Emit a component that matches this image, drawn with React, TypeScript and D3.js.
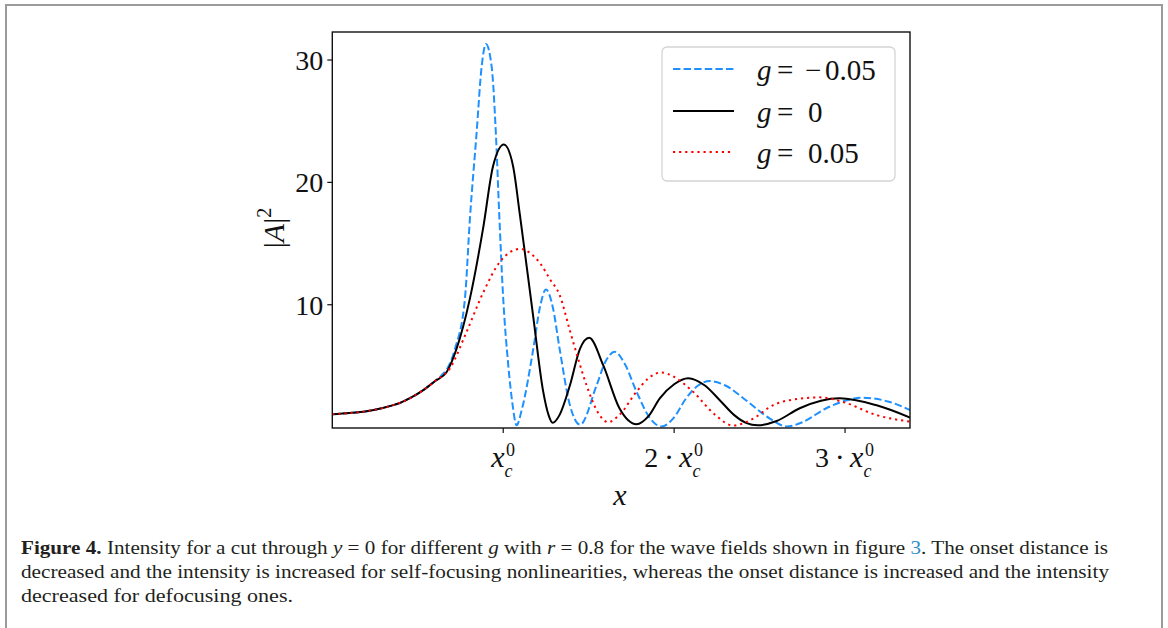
import React, { useEffect } from 'react';
import * as d3 from 'd3';

const W = 1168;
const H = 628;

// shared low-intensity rise (units of x_c^0, |A|^2)
const commonX = [0, 0.1, 0.2, 0.3, 0.4, 0.46, 0.53, 0.6];
const commonY = [1.05, 1.15, 1.3, 1.58, 2.0, 2.4, 3.0, 3.75];

// g = -0.05 (dashed blue)
const blueX = [0.64, 0.669, 0.718, 0.776, 0.805, 0.844, 0.874, 0.899, 0.932, 0.957, 0.977, 1.0, 1.03, 1.055, 1.078, 1.11, 1.176, 1.215, 1.25, 1.29, 1.33, 1.39, 1.45, 1.546, 1.6, 1.653, 1.71, 1.78, 1.86, 1.926, 2.0, 2.07, 2.14, 2.21, 2.3, 2.42, 2.56, 2.66, 2.75, 2.89, 3.0, 3.1, 3.25, 3.38];
const blueY = [4.25, 4.7, 6.4, 10.5, 17.0, 24.0, 29.5, 31.3, 29.5, 24.0, 17.3, 10.5, 5.0, 1.8, 0.15, 1.5, 6.4, 9.8, 11.25, 9.8, 6.4, 1.8, 0.2, 3.4, 5.4, 6.15, 5.2, 2.9, 0.7, 0.05, 0.8, 2.35, 3.4, 3.76, 3.4, 2.2, 0.7, 0.05, 0.4, 1.54, 2.15, 2.4, 2.1, 1.4];

// g = 0 (solid black)
const blackX = [0.669, 0.727, 0.805, 0.883, 0.94, 1.004, 1.058, 1.098, 1.175, 1.234, 1.265, 1.289, 1.33, 1.39, 1.449, 1.503, 1.585, 1.68, 1.78, 1.85, 1.916, 2.0, 2.082, 2.18, 2.267, 2.35, 2.42, 2.49, 2.6, 2.735, 2.969, 3.18, 3.38];
const blackY = [4.5, 6.4, 10.5, 16.3, 21.3, 23.1, 21.3, 17.3, 9.1, 2.9, 1.0, 0.35, 1.0, 3.4, 6.4, 7.3, 5.06, 1.54, 0.24, 0.9, 2.35, 3.5, 4.0, 3.4, 2.2, 1.0, 0.35, 0.15, 0.5, 1.54, 2.35, 1.8, 0.78];

// g = 0.05 (dotted red)
const redX = [0.688, 0.786, 0.883, 0.98, 1.04, 1.098, 1.16, 1.215, 1.273, 1.33, 1.39, 1.44, 1.488, 1.55, 1.614, 1.68, 1.78, 1.85, 1.926, 2.0, 2.11, 2.24, 2.345, 2.45, 2.58, 2.72, 2.852, 3.0, 3.18, 3.38];
const redY = [4.8, 7.8, 11.0, 13.5, 14.3, 14.56, 14.2, 13.4, 12.1, 10.8, 7.9, 5.5, 3.4, 1.3, 0.4, 1.0, 2.9, 4.0, 4.47, 4.1, 2.9, 1.0, 0.13, 0.6, 1.8, 2.3, 2.43, 2.0, 1.0, 0.45];

const yTicks = [10, 20, 30];
const xTicks = [1, 2, 3];
const legendSigns = ['\u2212', '', ''];
const legendValues = ['0.05', '0', '0.05'];

const SERIF = "'Liberation Serif', 'DejaVu Serif', serif";

type Pt = [number, number];
const build = (xs: number[], ys: number[]): Pt[] => {
  const pts: Pt[] = commonX.map((v, i) => [v, commonY[i]] as Pt);
  xs.forEach((v, i) => pts.push([v, ys[i]]));
  return pts;
};

export default function App() {
  useEffect(() => {
    document.body.style.margin = '0';
  }, []);

  const left = 332.3, right = 910, top = 32, bottom = 428;
  const x = d3.scaleLinear().domain([0, 3.38]).range([left, right]);
  const y = d3.scaleLinear().domain([-0.073, 32.29]).range([bottom, top]);
  const line = d3
    .line<Pt>()
    .x((d) => x(d[0]))
    .y((d) => y(d[1]))
    .curve(d3.curveMonotoneX);

  const series = [
    { pts: build(blueX, blueY), color: '#1e90ff', dash: '7.4 3.2' },
    { pts: build(blackX, blackY), color: '#000000', dash: null },
    { pts: build(redX, redY), color: '#ff0000', dash: '2.2 3.9' },
  ];

  const legendRows = [69, 111, 152];

  return (
    <svg width={W} height={H} style={{ position: 'absolute', left: 0, top: 0, background: '#fff' }} fontFamily={SERIF}>
      <rect x={0} y={0} width={W} height={H} fill="#fff" />
      {/* page frame */}
      <path d="M5,5H1163M6,5V628M1162,5V628" stroke="#9b9b9b" strokeWidth={2} fill="none" />

      <defs>
        <clipPath id="plotclip">
          <rect x={left} y={top} width={right - left} height={bottom - top} />
        </clipPath>
      </defs>

      <g clipPath="url(#plotclip)">
        {series.map((s, i) => (
          <path
            key={i}
            d={line(s.pts) || ''}
            fill="none"
            stroke={s.color}
            strokeWidth={2}
            strokeDasharray={s.dash || undefined}
          />
        ))}
      </g>

      {/* spines */}
      <rect x={left} y={top} width={right - left} height={bottom - top} fill="none" stroke="#111" strokeWidth={1.4} />

      {/* y ticks */}
      {yTicks.map((t) => (
        <g key={t}>
          <line x1={left - 5} x2={left} y1={y(t)} y2={y(t)} stroke="#111" strokeWidth={1.2} />
          <text x={left - 9} y={y(t) + 10} textAnchor="end" fontSize={28} fill="#111">
            {t}
          </text>
        </g>
      ))}

      {/* x ticks */}
      {xTicks.map((t) => {
        const off = t === 1 ? -12 : 5;
        return (
          <g key={t} transform={`translate(${x(t)},0)`}>
            <line x1={0} x2={0} y1={bottom} y2={bottom + 5} stroke="#111" strokeWidth={1.2} />
            {t > 1 && (
              <text x={-30} y={467} fontSize={28} fill="#111">
                {t}
                <tspan dx={6}>{'\u22c5'}</tspan>
              </text>
            )}
            <text x={off} y={467} fontSize={30} fill="#111">
              <tspan fontStyle="italic">x</tspan>
              <tspan fontSize={18} fontStyle="italic" dy={10}>c</tspan>
              <tspan fontSize={18} dx={-6.5} dy={-21}>0</tspan>
            </text>
          </g>
        );
      })}

      {/* axis labels */}
      <text x={620} y={505} fontSize={30} fontStyle="italic" textAnchor="middle" fill="#111">x</text>
      <g transform="translate(284,228) rotate(-90)">
        <text x={0} y={0} fontSize={30} textAnchor="middle" fill="#111">
          <tspan>|</tspan>
          <tspan fontStyle="italic">A</tspan>
          <tspan>|</tspan>
          <tspan fontSize={20} dy={-13}>2</tspan>
        </text>
      </g>

      {/* legend */}
      <rect x={662} y={47} width={233} height={134} rx={5} fill="#fff" fillOpacity={0.85} stroke="#d4d4d4" strokeWidth={1.3} />
      {series.map((s, i) => (
        <g key={i}>
          <line x1={673} x2={734} y1={legendRows[i]} y2={legendRows[i]} stroke={s.color} strokeWidth={2} strokeDasharray={s.dash || undefined} />
          <text x={757} y={legendRows[i] + 11} fontSize={29} fill="#111">
            <tspan fontStyle="italic">g</tspan>
            <tspan x={777}>=</tspan>
            {legendSigns[i] && <tspan x={805}>{legendSigns[i]}</tspan>}
            <tspan x={legendSigns[i] ? 825 : 808}>{legendValues[i]}</tspan>
          </text>
        </g>
      ))}

      {/* caption */}
      <g fontSize={19.5} fill="#231f20">
        <text x={21} y={554} textLength={1087} lengthAdjust="spacingAndGlyphs">
          <tspan fontWeight="bold">Figure 4.</tspan>
          <tspan>{' Intensity for a cut through '}</tspan>
          <tspan fontStyle="italic">y</tspan>
          <tspan>{' = 0 for different '}</tspan>
          <tspan fontStyle="italic">g</tspan>
          <tspan>{' with '}</tspan>
          <tspan fontStyle="italic">r</tspan>
          <tspan>{' = 0.8 for the wave fields shown in figure '}</tspan>
          <tspan fill="#2a8dc8">3</tspan>
          <tspan>. The onset distance is</tspan>
        </text>
        <text x={21} y={578} textLength={1088} lengthAdjust="spacingAndGlyphs">
          decreased and the intensity is increased for self-focusing nonlinearities, whereas the onset distance is increased and the intensity
        </text>
        <text x={21} y={602} textLength={272} lengthAdjust="spacingAndGlyphs">decreased for defocusing ones.</text>
      </g>
    </svg>
  );
}
